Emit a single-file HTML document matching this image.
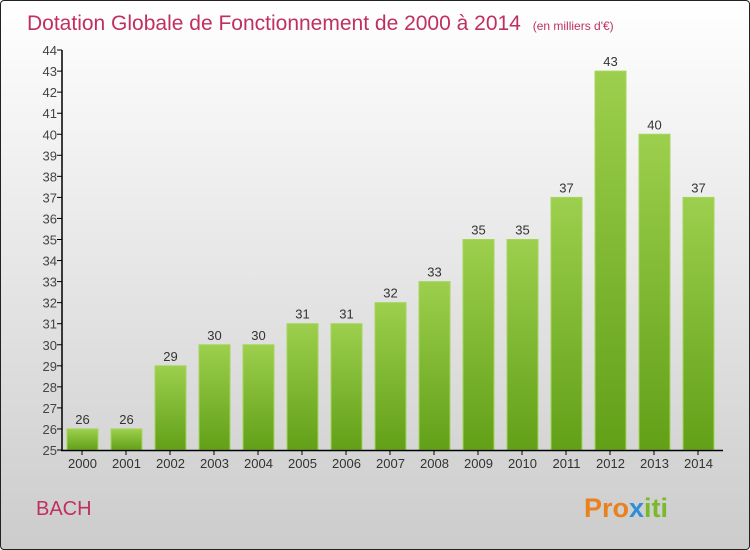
<!DOCTYPE html>
<html><head><meta charset="utf-8"><style>
body{margin:0}
#c{width:748px;height:548px;border:1px solid #222;border-radius:4px;background:linear-gradient(#ffffff,#cccccc);position:relative;overflow:hidden;font-family:"Liberation Sans",sans-serif}
</style></head><body>
<div id="c">
<svg id="s" width="748" height="548" xmlns="http://www.w3.org/2000/svg">
<defs><linearGradient id="g" x1="0" y1="0" x2="0" y2="1"><stop offset="0" stop-color="#9ccf4d"/><stop offset="1" stop-color="#62a018"/></linearGradient></defs>
<text x="26" y="29" font-size="21" fill="#c0305e">Dotation Globale de Fonctionnement de 2000 à 2014 <tspan font-size="12" dx="6">(en milliers d'€)</tspan></text>
<text x="35" y="514" font-size="20" fill="#c0305e">BACH</text>
<text x="583" y="516" font-size="27" font-weight="bold" fill="#e8821e">Pro<tspan fill="#2e8fd6">x</tspan><tspan fill="#7bb82a">iti</tspan></text>
<g id="plot"></g>
</svg>
</div>
<script>
const years=["2000","2001","2002","2003","2004","2005","2006","2007","2008","2009","2010","2011","2012","2013","2014"];
const values=[26,26,29,30,30,31,31,32,33,35,35,37,43,40,37];
const yTicks=[25,26,27,28,29,30,31,32,33,34,35,36,37,38,39,40,41,42,43,44];
const ns="http://www.w3.org/2000/svg";
const g=document.getElementById('plot');
const y=v=>449-(v-25)*21.05;
const x=i=>81+i*44;
function mk(t,a){const e=document.createElementNS(ns,t);for(const k in a)e.setAttribute(k,a[k]);g.appendChild(e);return e;}
yTicks.forEach(v=>{
 const l=mk('line',{x1:56,x2:61,y1:y(v),y2:y(v),stroke:'#000'});
 
 
 const t=mk('text',{x:56,y:y(v)+5,'text-anchor':'end','font-size':13,fill:'#444'});
 t.textContent=v;
 
 
});
years.forEach((yr,i)=>{
 const b=mk('rect',{x:x(i)-15,y:y(values[i]),width:31,height:y(25)-y(values[i]),fill:'url(#g)',stroke:'#a5d65a','stroke-width':1});
 
 
 const v=mk('text',{x:x(i)+0.5,y:y(values[i])-5,'text-anchor':'middle','font-size':13,fill:'#333'});
 v.textContent=values[i];
 
 
 const tk=mk('line',{x1:x(i),x2:x(i),y1:449,y2:454,stroke:'#000'});
 
 
 const t=mk('text',{x:x(i)+0.5,y:467,'text-anchor':'middle','font-size':13,fill:'#333'});
 t.textContent=yr;
 
 
});
const ya=mk('line',{x1:61,x2:61,y1:y(44),y2:450,stroke:'#000','stroke-width':1.5});


const xa=mk('line',{x1:60,x2:722,y1:449.5,y2:449.5,stroke:'#000','stroke-width':1.5});


</script>
</body></html>
